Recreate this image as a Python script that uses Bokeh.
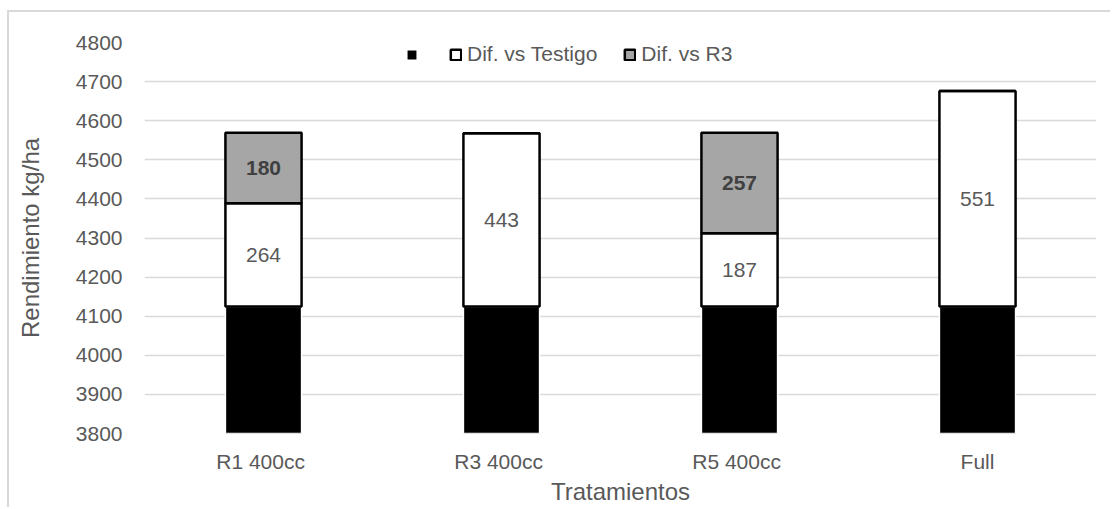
from bokeh.plotting import figure
from bokeh.models import ColumnDataSource, Legend, LegendItem, FactorRange, FixedTicker, LabelSet, Range1d
from bokeh.core.properties import value
from bokeh.embed import file_html
from bokeh.resources import INLINE

# ---- data ----
tratamientos = ["R1  400cc", "R3  400cc", "R5  400cc", "Full"]
testigo = [4125, 4125, 4125, 4125]
dif_testigo = [264, 443, 187, 551]
dif_r3 = [180, 0, 257, 0]
y_ticks = [3800, 3900, 4000, 4100, 4200, 4300, 4400, 4500, 4600, 4700, 4800]

FONT = "Liberation Sans"
TXT = "#595959"

top1 = [b + d for b, d in zip(testigo, dif_testigo)]
top2 = [t + d for t, d in zip(top1, dif_r3)]

src = ColumnDataSource(dict(
    x=tratamientos, b0=[0] * len(testigo), t0=testigo, t1=top1, t2=top2,
))

lab_w = ColumnDataSource(dict(
    x=tratamientos,
    y=[b + d / 2 for b, d in zip(testigo, dif_testigo)],
    txt=[str(d) for d in dif_testigo],
))
idx = [i for i, d in enumerate(dif_r3) if d > 0]
lab_g = ColumnDataSource(dict(
    x=[tratamientos[i] for i in idx],
    y=[top1[i] + dif_r3[i] / 2 for i in idx],
    txt=[str(dif_r3[i]) for i in idx],
))

p = figure(
    x_range=FactorRange(*tratamientos, range_padding=0),
    y_range=Range1d(y_ticks[0], y_ticks[-1]),
    width=1103, height=497,
    output_backend="svg", toolbar_location=None,
    min_border_left=135, min_border_top=30, min_border_right=16, min_border_bottom=76,
)
p.styles = {"margin-left": "7px", "margin-top": "10px",
            "border-left": "2px solid #d9d9d9", "border-top": "2px solid #d9d9d9"}
p.outline_line_color = None
p.background_fill_color = "white"

bw = 0.32
r0 = p.vbar(x="x", bottom="b0", top="t0", width=bw, source=src,
            fill_color="black", line_color="white", line_width=1.5)
r1 = p.vbar(x="x", bottom="t0", top="t1", width=bw, source=src,
            fill_color="white", line_color="black", line_width=2.5)
r2 = p.vbar(x="x", bottom="t1", top="t2", width=bw, source=src,
            fill_color="#a6a6a6", line_color="black", line_width=2.5)

p.add_layout(LabelSet(x="x", y="y", text="txt", source=lab_w,
                      text_align="center", text_baseline="middle",
                      text_font=value(FONT), text_font_size="21px", text_color=TXT))
p.add_layout(LabelSet(x="x", y="y", text="txt", source=lab_g,
                      text_align="center", text_baseline="middle",
                      text_font=value(FONT), text_font_size="21px", text_color="#404040",
                      text_font_style="bold"))

# axes
p.yaxis.ticker = FixedTicker(ticks=y_ticks)
for ax in (p.xaxis[0], p.yaxis[0]):
    ax.axis_line_color = None
    ax.major_tick_line_color = None
    ax.minor_tick_line_color = None
    ax.major_label_text_font = FONT
    ax.major_label_text_font_size = "21px"
    ax.major_label_text_color = TXT
    ax.axis_label_text_font = FONT
    ax.axis_label_text_font_size = "24px"
    ax.axis_label_text_color = TXT
    ax.axis_label_text_font_style = "normal"
p.yaxis.axis_label = "Rendimiento kg/ha"
p.xaxis.axis_label = "Tratamientos"
p.yaxis.major_label_standoff = 16
p.yaxis.axis_label_standoff = 29
p.xaxis.major_label_standoff = 10
p.xaxis.axis_label_standoff = 2

p.xgrid.grid_line_color = None
p.ygrid.grid_line_color = "#d9d9d9"
p.ygrid.grid_line_width = 1.5
p.ygrid.level = "underlay"

legend = Legend(
    items=[LegendItem(label=value(""), renderers=[r0]),
           LegendItem(label="Dif. vs Testigo", renderers=[r1]),
           LegendItem(label="Dif. vs R3", renderers=[r2])],
    orientation="horizontal", location=(261, 367),
    glyph_width=13, glyph_height=13, label_standoff=5, spacing=26,
    padding=0, margin=0, border_line_color=None, background_fill_alpha=0,
    label_text_font=FONT, label_text_font_size="21px", label_text_color=TXT,
    label_height=24, label_width=0,
)
p.add_layout(legend, "center")

open("out.html", "w").write(file_html(p, INLINE))
